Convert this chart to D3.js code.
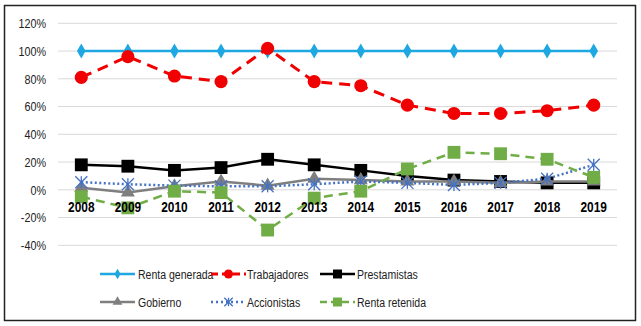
<!DOCTYPE html>
<html lang="es">
<head>
  <meta charset="UTF-8">
  <title>Distribución de la renta</title>
  <style>
    body { margin: 0; background: #fff; }
    svg { display: block; font-family: "Liberation Sans", Arial, sans-serif; }
  </style>
  <script src="https://d3js.org/d3.v7.min.js"></script>
</head>
<body>
  <svg id="chart" width="641" height="326"></svg>
  <script>
    const years = ['2008', '2009', '2010', '2011', '2012', '2013', '2014', '2015', '2016', '2017', '2018', '2019'];
    const yTicks = [-40, -20, 0, 20, 40, 60, 80, 100, 120];

    const rentaGenerada = [100, 100, 100, 100, 100, 100, 100, 100, 100, 100, 100, 100];
    const trabajadores  = [81, 96, 82, 78, 102, 78, 75, 61, 55, 55, 57, 61];
    const prestamistas  = [18, 17, 14, 16, 22, 18, 14, 10, 7, 6, 5, 5];
    const gobierno      = [1.5, -2, 2.5, 6, 3, 8, 7, 6, 6, 5, 6, 6];
    const accionistas   = [5.5, 4, 3, 2.5, 2.5, 4, 6, 5, 3.5, 5, 8, 18];
    const rentaRetenida = [-5, -13, -1, -2, -29, -6, -1, 15, 27, 26, 22, 9];

    const series = [
      { name: 'Renta generada', values: rentaGenerada, color: '#1FA7E1', width: 2.5, dash: null, marker: 'diamond' },
      { name: 'Trabajadores', values: trabajadores, color: '#F00000', width: 3, dash: '11,7', marker: 'circle' },
      { name: 'Prestamistas', values: prestamistas, color: '#000000', width: 2.5, dash: null, marker: 'square' },
      { name: 'Gobierno', values: gobierno, color: '#7F7F7F', width: 2.5, dash: null, marker: 'triangle' },
      { name: 'Accionistas', values: accionistas, color: '#4472C4', width: 2.5, dash: '2,2.5', marker: 'asterisk' },
      { name: 'Renta retenida', values: rentaRetenida, color: '#70AD47', width: 2.5, dash: '9,6', marker: 'square' }
    ];

    const svg = d3.select('#chart');

    // outer frame
    svg.append('rect')
      .attr('x', 4.5).attr('y', 5.5)
      .attr('width', 631).attr('height', 315)
      .attr('fill', '#fff').attr('stroke', '#222').attr('stroke-width', 1.5);

    const x = d3.scaleBand().domain(years).range([58, 617]);
    const y = d3.scaleLinear().domain([-40, 120]).range([245.3, 23.3]);
    const cx = d => x(d) + x.bandwidth() / 2;

    // gridlines
    svg.append('g')
      .selectAll('line')
      .data(yTicks)
      .join('line')
      .attr('x1', 58).attr('x2', 617)
      .attr('y1', d => y(d)).attr('y2', d => y(d))
      .attr('stroke', '#d9d9d9').attr('stroke-width', 1);

    // y axis labels (narrow look, like Arial Narrow)
    const yAxis = svg.append('g')
      .attr('transform', 'translate(46,0)')
      .call(d3.axisLeft(y).tickValues(yTicks).tickSize(0).tickPadding(0).tickFormat(d => d + '%'));
    yAxis.select('.domain').remove();
    yAxis.selectAll('text')
      .attr('font-family', null)
      .attr('font-size', 13.5)
      .attr('fill', '#222')
      .attr('x', 0)
      .attr('transform', 'scale(0.8,1)');

    const line = d3.line()
      .x((d, i) => cx(years[i]))
      .y(d => y(d));

    const symType = { diamond: d3.symbolDiamond, circle: d3.symbolCircle, square: d3.symbolSquare, triangle: d3.symbolTriangle };
    const symSize = { diamond: 65, circle: 135, square: 165, triangle: 85 };

    function drawMarker(g, s, px, py, scale) {
      scale = scale || 1;
      if (s.marker === 'asterisk') {
        const r = 6 * scale;
        const a = g.append('g').attr('transform', `translate(${px},${py})`)
          .attr('stroke', s.color).attr('stroke-width', 1.3);
        a.append('line').attr('x1', -r).attr('y1', -r).attr('x2', r).attr('y2', r);
        a.append('line').attr('x1', -r).attr('y1', r).attr('x2', r).attr('y2', -r);
        a.append('line').attr('x1', 0).attr('y1', -r).attr('x2', 0).attr('y2', r);
      } else {
        g.append('path')
          .attr('d', d3.symbol().type(symType[s.marker]).size(symSize[s.marker] * scale * scale)())
          .attr('transform', `translate(${px},${py})`)
          .attr('fill', s.color);
      }
    }

    const plot = svg.append('g');
    series.forEach(s => {
      plot.append('path')
        .datum(s.values)
        .attr('d', line)
        .attr('fill', 'none')
        .attr('stroke', s.color)
        .attr('stroke-width', s.width)
        .attr('stroke-dasharray', s.dash);
      s.values.forEach((v, i) => drawMarker(plot, s, cx(years[i]), y(v)));
    });

    // category labels inside the plot, just below the zero line
    svg.append('g')
      .selectAll('text')
      .data(years)
      .join('text')
      .attr('transform', d => `translate(${cx(d)},212) scale(0.85,1)`)
      .attr('text-anchor', 'middle')
      .attr('font-size', 14)
      .attr('font-weight', 'bold')
      .attr('fill', '#000')
      .text(d => d);

    // legend
    const legendPos = [
      { lx: 100, tx: 138, ty: 274 }, { lx: 211, tx: 247, ty: 274 }, { lx: 320, tx: 357, ty: 274 },
      { lx: 100, tx: 138, ty: 302 }, { lx: 211, tx: 247, ty: 302 }, { lx: 320, tx: 357, ty: 302 }
    ];
    const legend = svg.append('g');
    series.forEach((s, i) => {
      const p = legendPos[i];
      legend.append('line')
        .attr('x1', p.lx).attr('x2', p.lx + 35)
        .attr('y1', p.ty).attr('y2', p.ty)
        .attr('stroke', s.color)
        .attr('stroke-width', s.width)
        .attr('stroke-dasharray', s.dash === '2,2.5' ? '2,3' : (s.dash ? '7,4' : null));
      drawMarker(legend, s, p.lx + 17.5, p.ty, 0.7);
      legend.append('text')
        .attr('transform', `translate(${p.tx},${p.ty}) scale(0.78,1)`)
        .attr('dy', '0.35em')
        .attr('font-size', 13.5)
        .attr('fill', '#222')
        .text(s.name);
    });
  </script>
</body>
</html>
